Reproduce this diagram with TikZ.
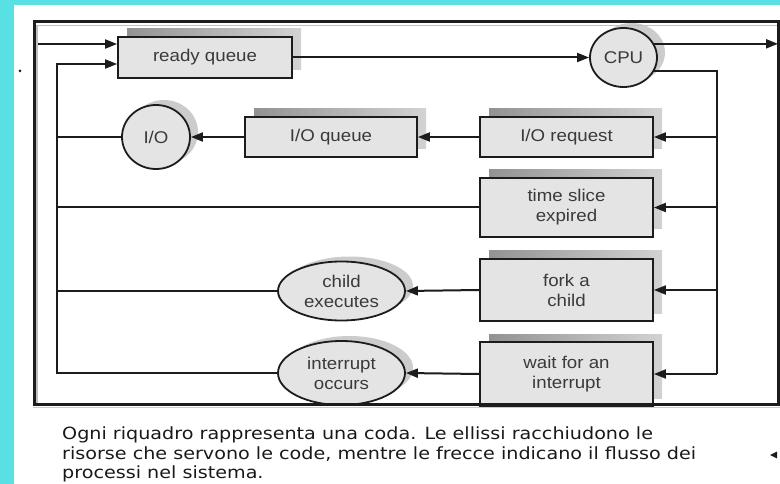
\documentclass[tikz,border=0pt]{standalone}
\usepackage{fontspec}
\usetikzlibrary{arrows.meta,shapes.geometric,shadows}
\newfontfamily\labelfont[FakeStretch=1.1]{Liberation Sans}
\newfontfamily\notefont[FakeStretch=1.14]{DejaVu Sans}
\definecolor{slidecyan}{RGB}{88,224,226}
\definecolor{ink}{RGB}{28,28,28}
\definecolor{labelink}{RGB}{58,58,58}
\definecolor{queuefill}{RGB}{228,228,228}

\tikzset{
  base/.style={draw=ink, line width=1.8pt, fill=queuefill, inner sep=0pt,
    align=center, text=labelink, font=\labelfont\fontsize{17}{20}\selectfont},
  queue/.style={base, rectangle,
    general shadow={shadow xshift=9pt, shadow yshift=8pt,
      left color=gray!85, right color=gray!35}},
  resource/.style={base, ellipse,
    general shadow={shadow xshift=8pt, shadow yshift=5pt, fill=gray!40}},
  flow/.style={draw=ink, line width=2pt},
  arr/.style={flow, -{Triangle[length=12pt,width=9pt]}},
  note/.style={anchor=base west, inner sep=0pt, text=black!90,
    font=\notefont\fontsize{16.8}{20}\selectfont},
}

\begin{document}
\begin{tikzpicture}[x=1pt,y=-1pt]
  % slide background
  \fill[slidecyan] (0,0) rectangle (780,484);
  \fill[white] (14,5) rectangle (780,484);
  \useasboundingbox (0,0) rectangle (780,484);

  % queues
  \node[queue, minimum width=174pt, minimum height=41pt] (rq) at (205,57.5) {ready queue};
  \node[queue, minimum width=173pt, minimum height=40pt] (ioreq) at (566.5,137) {I/O request};
  \node[queue, minimum width=172pt, minimum height=40pt] (ioq) at (331,137) {I/O queue};
  \node[queue, minimum width=173pt, minimum height=59pt] (ts) at (566.5,207.5) {time slice\\expired};
  \node[queue, minimum width=173pt, minimum height=62pt] (fork) at (566.5,290) {fork a\\child};
  \node[queue, minimum width=173pt, minimum height=64pt] (wait) at (566.5,374) {wait for an\\interrupt};

  % resources
  \node[resource, minimum width=67pt, minimum height=59pt] (cpu) at (623.5,57.5) {CPU};
  \node[resource, minimum width=68pt, minimum height=64pt] (io) at (156,137) {I/O};
  \node[resource, minimum width=127pt, minimum height=59pt] (child) at (341.5,291) {child\\executes};
  \node[resource, minimum width=127pt, minimum height=64pt] (intr) at (341.5,373) {interrupt\\occurs};

  % connector anchors
  \coordinate (entry) at (37,44);
  \coordinate (exit) at (778,45);
  \coordinate (bus) at (717,71);
  \coordinate (back) at (56.5,64);

  % main flow
  \draw[arr] (entry) -- (entry -| rq.west);
  \draw[arr] (rq.east) -- (cpu.west);
  \draw[arr] (cpu.24) -- (cpu.24 -| exit);
  \draw[flow] (cpu.-24) -- (cpu.-24 -| bus) -- (bus |- wait.east);

  % from the CPU to each event
  \draw[arr] (bus |- ioreq.east) -- (ioreq.east);
  \draw[arr] (bus |- ts.east) -- (ts.east);
  \draw[arr] (bus |- fork.east) -- (fork.east);
  \draw[arr] (bus |- wait.east) -- (wait.east);

  % events back to the ready queue
  \draw[arr] (ioreq.west) -- (ioreq.west -| ioq.east);
  \draw[arr] (ioq.west) -- (io.east);
  \draw[flow] (io.west) -- (io.west -| back);
  \draw[flow] (ts.west) -- (ts.west -| back);
  \draw[arr] (fork.west) -- (child.east);
  \draw[flow] (child.west) -- (child.west -| back);
  \draw[arr] (wait.west) -- (intr.east);
  \draw[arr] (intr.west) -- (intr.west -| back) -- (back) -- (back -| rq.west);

  % picture frame
  \draw[gray!50, line width=1.6pt] (37,405) -- (37,25.5) -- (780,25.5);
  \draw[gray!40, line width=1.4pt] (33,407.5) -- (780,407.5);
  \draw[ink, line width=3pt] (34,22) rectangle (778,404.5);

  % caption
  \node[note] (note1) at (62,439) {Ogni riquadro rappresenta una coda. Le ellissi racchiudono le};
  \node[note] (note2) at (62,459) {risorse che servono le code, mentre le frecce indicano il flusso dei};
  \node[note] (note3) at (62,478.5) {processi nel sistema.};

  % stray marks
  \fill[ink] (20,71) circle (1.5pt);
  \fill[ink] (770,455) -- (777,451.5) -- (777,458.5) -- cycle;
\end{tikzpicture}
\end{document}
